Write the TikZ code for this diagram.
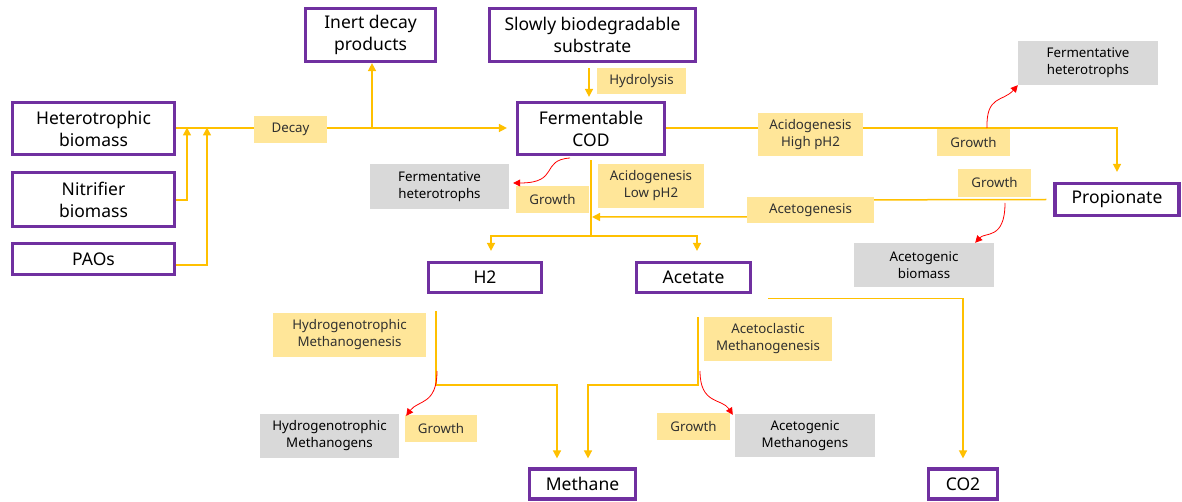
\documentclass[tikz,border=0pt]{standalone}
\usepackage{fontspec}
\setmainfont{Noto Sans}
\usetikzlibrary{arrows.meta}
\definecolor{purp}{HTML}{7030A0}
\definecolor{ylw}{HTML}{FFC000}
\definecolor{lab}{HTML}{FFE699}
\definecolor{gry}{HTML}{D9D9D9}
\definecolor{redc}{HTML}{FF0000}
\definecolor{ltxt}{HTML}{303030}
\tikzset{
  mainbox/.style={draw=purp, line width=3.2pt, fill=white, align=center, inner sep=0pt,
    font=\fontsize{17.5}{22}\selectfont, text=black},
  lbl/.style={fill=lab, align=center, inner sep=0pt, font=\fontsize{13.3}{17}\selectfont, text=ltxt},
  gbox/.style={fill=gry, align=center, inner sep=0pt, font=\fontsize{13.3}{17}\selectfont, text=black},
  flow/.style={draw=ylw, line width=1.5pt, line join=miter},
  flowa/.style={flow, -{Triangle[length=8pt,width=8pt]}},
  growarrow/.style={draw=redc, line width=0.8pt, -{Triangle[length=7pt,width=7pt]}},
}
\begin{document}
\begin{tikzpicture}[x=1pt,y=-1pt]
\useasboundingbox (0,0) rectangle (1182,502);
% main boxes
\node[mainbox, minimum width=130pt, minimum height=53pt] (inert) at (370.5,35) {Inert decay\\products};
\node[mainbox, minimum width=206pt, minimum height=53pt] (slow) at (592.5,35) {Slowly biodegradable\\substrate};
\node[mainbox, minimum width=162pt, minimum height=52pt] (het) at (93.5,128.5) {Heterotrophic\\biomass};
\node[mainbox, minimum width=162pt, minimum height=54pt] (nit) at (93.5,199.5) {Nitrifier\\biomass};
\node[mainbox, minimum width=162pt, minimum height=31pt] (pao) at (93.5,259) {PAOs};
\node[mainbox, minimum width=147pt, minimum height=52pt] (ferm) at (591,128.5) {Fermentable\\COD};
\node[mainbox, minimum width=124pt, minimum height=32pt] (prop) at (1117,199.5) {Propionate};
\node[mainbox, minimum width=113pt, minimum height=30pt] (h2) at (485,277.5) {H2};
\node[mainbox, minimum width=114pt, minimum height=30pt] (acet) at (693.5,277.5) {Acetate};
\node[mainbox, minimum width=106pt, minimum height=30pt] (meth) at (582.5,484) {Methane};
\node[mainbox, minimum width=69pt, minimum height=30pt] (co2) at (963,484) {CO2};
% gray biomass boxes
\node[gbox, minimum width=139pt, minimum height=45pt] (fhl) at (439.5,186.5) {Fermentative\\heterotrophs};
\node[gbox, minimum width=140pt, minimum height=44pt] (fhr) at (1088,63) {Fermentative\\heterotrophs};
\node[gbox, minimum width=140pt, minimum height=44pt] (agb) at (924,265) {Acetogenic\\biomass};
\node[gbox, minimum width=139pt, minimum height=44pt] (hmg) at (329.5,436) {Hydrogenotrophic\\Methanogens};
\node[gbox, minimum width=140pt, minimum height=43pt] (amg) at (805,435.5) {Acetogenic\\Methanogens};
% junction coordinates
\coordinate (jdec) at (372,128);
\coordinate (jn) at (187,128);
\coordinate (jp) at (207,128);
\coordinate (fsplit) at (591,236);
\coordinate (hs) at (436,311);
\coordinate (as) at (698,317);
% connectors
\draw[flowa, shorten >=9pt] (het.east |- 0,128) -- (ferm.west |- 0,128);
\draw[flowa] (jdec) -- (inert.south -| jdec);
\draw[flowa, shorten >=-0.5pt] (nit.east |- 0,200) -| (jn);
\draw[flowa, shorten >=-0.5pt] (pao.east |- 0,265) -| (jp);
\draw[flowa, shorten >=4pt] (slow.south -| 589,0) ++(0,5) -- (ferm.north -| 589,0);
\draw[flowa, shorten >=10pt] (ferm.east |- 0,128) -| (prop.north);
\draw[flow] (ferm.south -| fsplit) ++(0,4) -- (fsplit);
\draw[flowa, shorten >=10pt] (fsplit) -| (h2.north -| 491,0);
\draw[flowa, shorten >=10pt] (fsplit) -| (acet.north -| 697,0);
\draw[flowa, shorten >=1pt] (prop.west) ++(-7,0) -- (810,200) -- (810,217) -- (591,217);
\draw[flowa, shorten >=9pt] (hs) |- (557,385) -- (meth.north -| 557,0);
\draw[flowa, shorten >=9pt] (as) |- (588,385) -- (meth.north -| 588,0);
\draw[flowa, shorten >=9pt] (acet.east) ++(16,21) -| (co2.north);
% process labels
\node[lbl, minimum width=73pt, minimum height=27pt] (ldecay) at (290.5,129.5) {Decay};
\node[lbl, minimum width=89pt, minimum height=26pt] (lhyd) at (641.5,81) {Hydrolysis};
\node[lbl, minimum width=105pt, minimum height=43pt] (lacidh) at (810.5,134.5) {Acidogenesis\\High pH2};
\node[lbl, minimum width=73pt, minimum height=27pt] (lg1) at (973.5,142.5) {Growth};
\node[lbl, minimum width=73pt, minimum height=28pt] (lg2) at (994.5,183) {Growth};
\node[lbl, minimum width=127pt, minimum height=26pt] (laceto) at (810.5,210) {Acetogenesis};
\node[lbl, minimum width=106pt, minimum height=44pt] (lacidl) at (651,186) {Acidogenesis\\Low pH2};
\node[lbl, minimum width=73pt, minimum height=27pt] (lg3) at (552.5,199.5) {Growth};
\node[lbl, minimum width=153pt, minimum height=44pt] (lhm) at (349.5,335) {Hydrogenotrophic\\Methanogenesis};
\node[lbl, minimum width=72pt, minimum height=27pt] (lg4) at (441,428.5) {Growth};
\node[lbl, minimum width=128pt, minimum height=44pt] (lam) at (768,339) {Acetoclastic\\Methanogenesis};
\node[lbl, minimum width=73pt, minimum height=27pt] (lg5) at (693.5,426.5) {Growth};
% growth arrows
\coordinate (r1s) at (570,158);
\coordinate (r2s) at (987,128);
\coordinate (r3s) at (1005,203);
\coordinate (r4s) at (437,371);
\coordinate (r5s) at (700,371);
\draw[growarrow] (r1s) .. controls (540,160) and (560,183) .. ([xshift=4pt]fhl.east |- 0,183);
\draw[growarrow] (r2s) .. controls (986,95) and (1003,102) .. (fhr.south west);
\draw[growarrow] (r3s) .. controls (1005,240) and (985,232) .. ([xshift=-19pt]agb.north east);
\draw[growarrow] (r4s) .. controls (437,405) and (418,400) .. ([xshift=7pt,yshift=-2pt]hmg.north east);
\draw[growarrow] (r5s) .. controls (700,405) and (722,398) .. ([xshift=-2pt,yshift=-1pt]amg.north west);
\end{tikzpicture}
\end{document}
